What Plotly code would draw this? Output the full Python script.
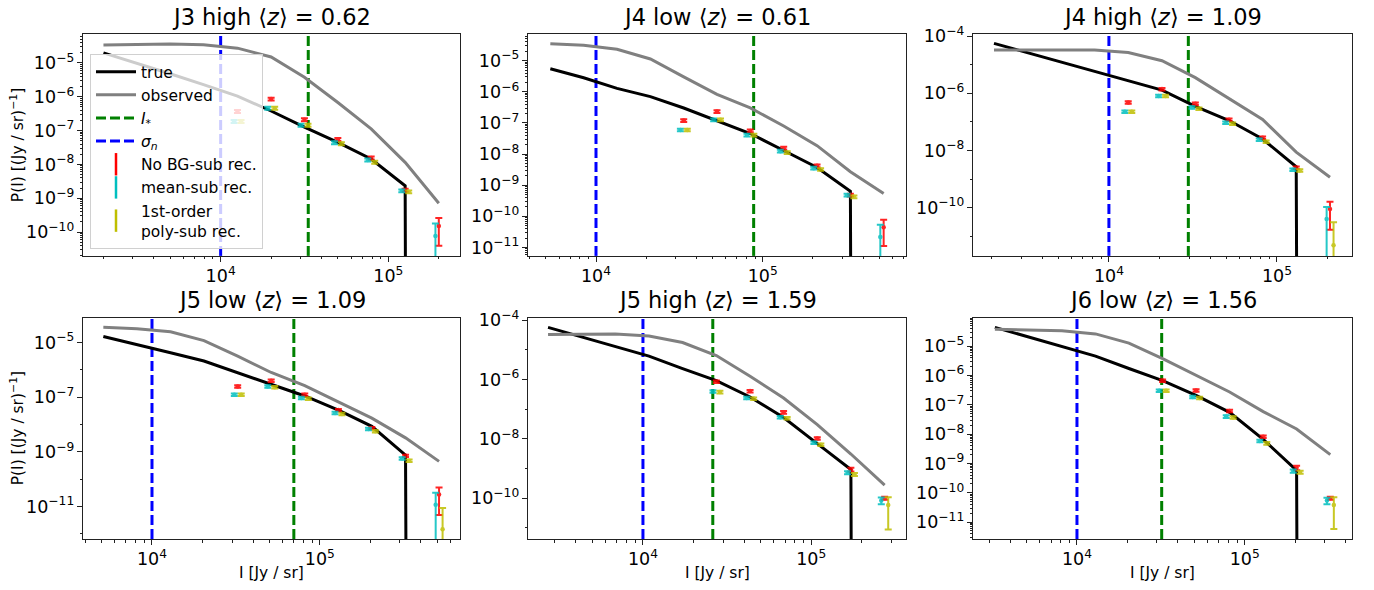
import numpy as np
import plotly.graph_objects as go

W, H = 1374, 590

# ---------------- data ----------------
TITLES = ["J3 high", "J4 low", "J4 high", "J5 low", "J5 high", "J6 low"]
MEAN_Z = ["0.62", "0.61", "1.09", "1.09", "1.59", "1.56"]
SIGMA_N = [1.0e4, 1.0e4, 1.0e4, 1.0e4, 1.0e4, 1.0e4]
I_STAR = [3.33e4, 8.83e4, 2.97e4, 7.0e4, 2.6e4, 3.2e4]
REC_START = [4, 4, 4, 4, 5, 5]   # first intensity bin with a reconstruction

# J3 high
BINS_J3H = [2.0e3, 3.16e3, 5.0e3, 7.9e3, 1.26e4, 2.0e4, 3.16e4, 5.0e4, 7.9e4, 1.26e5, 2.0e5]
TRUE_J3H = [2.0e-5, 1.0e-5, 4.79e-6, 2.29e-6, 1.05e-6, 3.8e-7, 1.26e-7, 4.47e-8, 1.45e-8, 2.34e-9, 0.0]
OBS_J3H = [3.39e-5, 3.55e-5, 3.63e-5, 3.47e-5, 2.75e-5, 1.51e-5, 3.8e-6, 6.76e-7, 1.12e-7, 1.15e-8, 7.08e-10]
NOBG_J3H = [3.68e-7, 8.59e-7, 2.11e-7, 5.52e-8, 1.55e-8, 1.74e-9, 1.50e-10]
NOBG_ERR_J3H = [0.1, 0.1, 0.1, 0.1, 0.1, 0.1, 0.74]
MEAN_J3H = [1.88e-7, 4.60e-7, 1.44e-7, 4.42e-8, 1.36e-8, 1.66e-9, 7.66e-11]
MEAN_ERR_J3H = [0.1, 0.1, 0.1, 0.1, 0.1, 0.1, 1.33]
POLY_J3H = [1.88e-7, 4.60e-7, 1.44e-7, 4.13e-8, 1.16e-8, 1.55e-9, 1.0e-11]
POLY_ERR_J3H = [0.1, 0.1, 0.1, 0.1, 0.1, 0.1, 0.5]

# J4 low
BINS_J4L = [5.32e3, 8.43e3, 1.337e4, 2.12e4, 3.36e4, 5.32e4, 8.43e4, 1.337e5, 2.12e5, 3.36e5, 5.32e5]
TRUE_J4L = [5.47e-6, 2.82e-6, 1.29e-6, 7.01e-7, 3.02e-7, 1.20e-7, 4.57e-8, 1.30e-8, 3.72e-9, 6.35e-10, 0.0]
OBS_J4L = [3.52e-5, 3.11e-5, 2.33e-5, 1.13e-5, 3.02e-6, 8.32e-7, 3.02e-7, 7.94e-8, 1.86e-8, 2.71e-9, 5.37e-10]
NOBG_J4L = [1.20e-7, 2.31e-7, 5.55e-8, 1.55e-8, 4.18e-9, 4.86e-10, 4.44e-11]
NOBG_ERR_J4L = [0.1, 0.1, 0.1, 0.1, 0.1, 0.1, 0.75]
MEAN_J4L = [5.96e-8, 1.26e-7, 4.06e-8, 1.24e-8, 3.53e-9, 4.79e-10, 2.16e-11]
MEAN_ERR_J4L = [0.1, 0.1, 0.1, 0.1, 0.1, 0.1, 1.48]
POLY_J4L = [5.96e-8, 1.26e-7, 4.06e-8, 1.12e-8, 3.21e-9, 4.22e-10, 2.0e-12]
POLY_ERR_J4L = [0.1, 0.1, 0.1, 0.1, 0.1, 0.1, 0.5]

# J4 high
BINS_J4H = [2.07e3, 3.27e3, 5.19e3, 8.22e3, 1.303e4, 2.07e4, 3.27e4, 5.19e4, 8.22e4, 1.303e5, 2.07e5]
TRUE_J4H = [5.61e-5, 2.63e-5, 1.26e-5, 5.89e-6, 2.65e-6, 1.30e-6, 3.49e-7, 1.12e-7, 2.51e-8, 2.69e-9, 0.0]
OBS_J4H = [3.31e-5, 3.35e-5, 3.39e-5, 3.31e-5, 2.69e-5, 1.39e-5, 3.54e-6, 6.75e-7, 1.22e-7, 8.77e-9, 1.16e-9]
NOBG_J4H = [4.79e-7, 1.41e-6, 4.31e-7, 1.19e-7, 2.79e-8, 2.48e-9, 8.9e-11]
NOBG_ERR_J4H = [0.1, 0.1, 0.1, 0.1, 0.1, 0.1, 0.81]
MEAN_J4H = [2.29e-7, 8.11e-7, 3.23e-7, 9.35e-8, 2.38e-8, 2.12e-9, 3.98e-11]
MEAN_ERR_J4H = [0.1, 0.1, 0.1, 0.1, 0.1, 0.1, 1.66]
POLY_J4H = [2.29e-7, 8.11e-7, 2.90e-7, 8.65e-8, 2.04e-8, 2.01e-9, 4.85e-12]
POLY_ERR_J4H = [0.1, 0.1, 0.1, 0.1, 0.1, 0.1, 5.4]

# J5 low
BINS_J5L = [5.13e3, 8.13e3, 1.29e4, 2.04e4, 3.24e4, 5.13e4, 8.13e4, 1.29e5, 2.04e5, 3.24e5, 5.13e5]
TRUE_J5L = [1.64e-5, 8.47e-6, 4.17e-6, 2.09e-6, 7.94e-7, 3.03e-7, 1.10e-7, 3.36e-8, 8.51e-9, 7.53e-10, 0.0]
OBS_J5L = [3.55e-5, 3.16e-5, 2.45e-5, 1.17e-5, 3.16e-6, 7.94e-7, 2.64e-7, 6.68e-8, 1.70e-8, 3.24e-9, 4.47e-10]
NOBG_J5L = [2.44e-7, 4.0e-7, 1.22e-7, 3.36e-8, 7.40e-9, 7.13e-10, 2.72e-11]
NOBG_ERR_J5L = [0.1, 0.1, 0.1, 0.1, 0.1, 0.1, 0.82]
MEAN_J5L = [1.22e-7, 2.44e-7, 9.29e-8, 2.62e-8, 6.81e-9, 5.71e-10, 1.15e-11]
MEAN_ERR_J5L = [0.1, 0.1, 0.1, 0.1, 0.1, 0.1, 1.77]
POLY_J5L = [1.22e-7, 2.31e-7, 8.79e-8, 2.42e-8, 5.61e-9, 4.71e-10, 1.46e-12]
POLY_ERR_J5L = [0.1, 0.1, 0.1, 0.1, 0.1, 0.1, 5.0]

# J5 high
BINS_J5H = [2.73e3, 4.33e3, 6.85e3, 1.086e4, 1.72e4, 2.73e4, 4.33e4, 6.85e4, 1.086e5, 1.72e5, 2.73e5]
TRUE_J5H = [5.73e-5, 2.75e-5, 1.32e-5, 6.17e-6, 2.35e-6, 9.18e-7, 2.59e-7, 5.24e-8, 6.92e-9, 9.33e-10, 0.0]
OBS_J5H = [3.28e-5, 3.35e-5, 3.45e-5, 2.96e-5, 1.78e-5, 6.47e-6, 1.29e-6, 2.40e-7, 3.02e-8, 3.09e-9, 2.75e-10]
NOBG_J5H = [8.51e-7, 4.08e-7, 7.85e-8, 1.04e-8, 9.31e-10, 1.0e-10]
NOBG_ERR_J5H = [0.1, 0.1, 0.1, 0.1, 0.15, 0.12]
MEAN_J5H = [3.98e-7, 2.40e-7, 5.37e-8, 7.45e-9, 7.23e-10, 8.38e-11]
MEAN_ERR_J5H = [0.1, 0.1, 0.1, 0.1, 0.12, 0.25]
POLY_J5H = [3.78e-7, 2.28e-7, 4.98e-8, 6.38e-9, 6.37e-10, 5.85e-11]
POLY_ERR_J5H = [0.1, 0.1, 0.1, 0.1, 0.12, 0.85]

# J6 low
BINS_J6L = [3.24e3, 5.13e3, 8.13e3, 1.29e4, 2.04e4, 3.24e4, 5.13e4, 8.13e4, 1.29e5, 2.04e5, 3.24e5]
TRUE_J6L = [4.44e-5, 2.10e-5, 1.0e-5, 4.62e-6, 1.75e-6, 6.75e-7, 2.12e-7, 5.58e-8, 6.64e-9, 5.78e-10, 0.0]
OBS_J6L = [3.80e-5, 3.67e-5, 3.39e-5, 2.65e-5, 1.29e-5, 3.77e-6, 9.91e-7, 2.75e-7, 5.89e-8, 1.51e-8, 2.0e-9]
NOBG_J6L = [6.75e-7, 3.12e-7, 6.19e-8, 8.15e-9, 7.10e-10, 6.52e-11]
NOBG_ERR_J6L = [0.1, 0.1, 0.1, 0.1, 0.18, 0.12]
MEAN_J6L = [3.04e-7, 1.87e-7, 4.0e-8, 5.83e-9, 5.50e-10, 5.44e-11]
MEAN_ERR_J6L = [0.1, 0.1, 0.1, 0.1, 0.12, 0.25]
POLY_J6L = [3.04e-7, 1.73e-7, 3.71e-8, 4.88e-9, 5.08e-10, 3.82e-11]
POLY_ERR_J6L = [0.1, 0.1, 0.1, 0.1, 0.12, 0.85]

# ---------------- layout of the panels (pixels) ----------------
COLS_PX = [(83, 460), (528, 906), (973, 1352)]
ROWS_PX = [(25, 251), (314, 540)]
X_RANGES = [(3.179, 5.4275), (3.592, 5.860), (3.191, 5.447),
            (3.589, 5.835), (3.317, 5.563), (3.380, 5.640)]
Y_RANGES = [(-10.706, -4.157), (-11.27, -4.16), (-11.69, -3.94),
            (-12.19, -4.093), (-11.376, -3.911), (-11.58, -4.02)]
Y_DTICK = [1, 1, 2, 2, 2, 1]
Y_TICK0 = [0, 0, 0, 1, 0, 0]

PANELS = [
    (BINS_J3H, TRUE_J3H, OBS_J3H, NOBG_J3H, NOBG_ERR_J3H, MEAN_J3H, MEAN_ERR_J3H, POLY_J3H, POLY_ERR_J3H),
    (BINS_J4L, TRUE_J4L, OBS_J4L, NOBG_J4L, NOBG_ERR_J4L, MEAN_J4L, MEAN_ERR_J4L, POLY_J4L, POLY_ERR_J4L),
    (BINS_J4H, TRUE_J4H, OBS_J4H, NOBG_J4H, NOBG_ERR_J4H, MEAN_J4H, MEAN_ERR_J4H, POLY_J4H, POLY_ERR_J4H),
    (BINS_J5L, TRUE_J5L, OBS_J5L, NOBG_J5L, NOBG_ERR_J5L, MEAN_J5L, MEAN_ERR_J5L, POLY_J5L, POLY_ERR_J5L),
    (BINS_J5H, TRUE_J5H, OBS_J5H, NOBG_J5H, NOBG_ERR_J5H, MEAN_J5H, MEAN_ERR_J5H, POLY_J5H, POLY_ERR_J5H),
    (BINS_J6L, TRUE_J6L, OBS_J6L, NOBG_J6L, NOBG_ERR_J6L, MEAN_J6L, MEAN_ERR_J6L, POLY_J6L, POLY_ERR_J6L),
]

RED = "#ff0000"
CYAN = "#00bfbf"
YELLOW = "#bfbf00"
GREEN = "#008000"
BLUE = "#0000ff"
GREY = "#808080"
FONT = "DejaVu Sans"
SPINE = "#222222"

REC_SERIES = [  # (index in panel tuple, colour, x shift factor, legend name)
    (3, RED, 1.0, "No BG-sub rec."),
    (5, CYAN, 0.955, "mean-sub rec."),
    (7, YELLOW, 1.05, "1st-order<br>poly-sub rec."),
]

fig = go.Figure()
layout = {}
shapes = []
annotations = []

for i, panel in enumerate(PANELS):
    bins = np.array(panel[0])
    true = np.array(panel[1])
    obs = np.array(panel[2])
    r, c = divmod(i, 3)
    sfx = "" if i == 0 else str(i + 1)
    xa, ya = "x" + sfx, "y" + sfx

    # log axis: a zero value is clipped far below the axis, like matplotlib does
    true_plot = np.where(true > 0, true, 1e-300)
    fig.add_trace(go.Scatter(x=bins, y=true_plot, mode="lines", name="true",
                             line=dict(color="black", width=3),
                             showlegend=(i == 0), legendrank=1,
                             xaxis=xa, yaxis=ya))
    fig.add_trace(go.Scatter(x=bins, y=obs, mode="lines", name="observed",
                             line=dict(color=GREY, width=3),
                             showlegend=(i == 0), legendrank=2,
                             xaxis=xa, yaxis=ya))

    k0 = REC_START[i]
    for idx, col, shift, name in REC_SERIES:
        vals = np.array(panel[idx])
        err = vals * np.array(panel[idx + 1])
        fig.add_trace(go.Scatter(
            x=bins[k0:] * shift, y=vals, mode="markers", name=name,
            marker=dict(color=col, size=4.5),
            error_y=dict(type="data", array=err, color=col, thickness=2, width=3.5),
            opacity=0.85, showlegend=False, xaxis=xa, yaxis=ya))

    for xv, col in ((I_STAR[i], GREEN), (SIGMA_N[i], BLUE)):
        shapes.append(dict(type="line", xref=xa, yref=ya + " domain",
                           x0=xv, x1=xv, y0=0, y1=1, layer="below",
                           line=dict(color=col, width=3, dash="10px,4px")))

    x0p, x1p = COLS_PX[c]
    y0p, y1p = ROWS_PX[r]
    axis_common = dict(type="log", showgrid=False, zeroline=False,
                       showline=True, linecolor=SPINE, linewidth=1, mirror=True,
                       ticks="outside", ticklen=5, tickwidth=1, tickcolor=SPINE,
                       tickfont=dict(family=FONT, size=14, color="black"),
                       exponentformat="power", showexponent="all")
    layout["xaxis" + sfx] = dict(
        axis_common, domain=[x0p / W, x1p / W], anchor=ya,
        range=list(X_RANGES[i]), dtick=1,
        minor=dict(ticks="outside", ticklen=2.5, tickwidth=0.8, tickcolor=SPINE, dtick="D1"))
    layout["yaxis" + sfx] = dict(
        axis_common, domain=[1 - y1p / H, 1 - y0p / H], anchor=xa,
        range=list(Y_RANGES[i]), dtick=Y_DTICK[i], tick0=Y_TICK0[i],
        minor=dict(ticks="outside", ticklen=2.5, tickwidth=0.8, tickcolor=SPINE,
                   dtick=("D1" if Y_DTICK[i] == 1 else 1)))

    annotations.append(dict(
        text=f"{TITLES[i]} ⟨<i>z</i>⟩ = {MEAN_Z[i]}", xref="paper", yref="paper",
        x=(x0p + x1p) / 2 / W, y=1 - (7 if r == 0 else 296) / H,
        xanchor="center", yanchor="middle", showarrow=False,
        font=dict(family=FONT, size=22.5, color="black")))
    if c == 0:
        annotations.append(dict(
            text="P(I) [(Jy / sr)<sup>−1</sup>]", xref="paper", yref="paper",
            x=17 / W, y=1 - (y0p + y1p) / 2 / H, textangle=-90,
            xanchor="center", yanchor="middle", showarrow=False,
            font=dict(family=FONT, size=15.5, color="black")))
    if r == 1:
        annotations.append(dict(
            text="I [Jy / sr]", xref="paper", yref="paper",
            x=(x0p + x1p) / 2 / W, y=1 - 575 / H,
            xanchor="center", yanchor="middle", showarrow=False,
            font=dict(family=FONT, size=15.5, color="black")))

# legend-only entries for the dashed lines and the error-bar series
fig.add_trace(go.Scatter(x=[None], y=[None], mode="lines", name="<i>I</i><sub>*</sub>",
                         line=dict(color=GREEN, width=3, dash="10px,4px"), legendrank=3))
fig.add_trace(go.Scatter(x=[None], y=[None], mode="lines", name="<i>σ<sub>n</sub></i>",
                         line=dict(color=BLUE, width=3, dash="10px,4px"), legendrank=4))
for rank, (idx, col, shift, name) in enumerate(REC_SERIES):
    fig.add_trace(go.Scatter(x=[None], y=[None], mode="markers", name=name,
                             marker=dict(symbol="line-ns-open", size=16, color=col,
                                         line=dict(color=col, width=2.5)),
                             legendrank=5 + rank))

fig.update_layout(
    width=W, height=H, margin=dict(l=0, r=0, t=0, b=0),
    paper_bgcolor="white", plot_bgcolor="white",
    font=dict(family=FONT, color="black"),
    shapes=shapes, annotations=annotations,
    legend=dict(x=90 / W, y=1 - 45 / H, xanchor="left", yanchor="top",
                bgcolor="rgba(255,255,255,0.8)", bordercolor="#d0d0d0", borderwidth=1,
                font=dict(family=FONT, size=15.5, color="black"),
                tracegroupgap=0, itemwidth=40),
    **layout)

fig.write_html("out.html")
